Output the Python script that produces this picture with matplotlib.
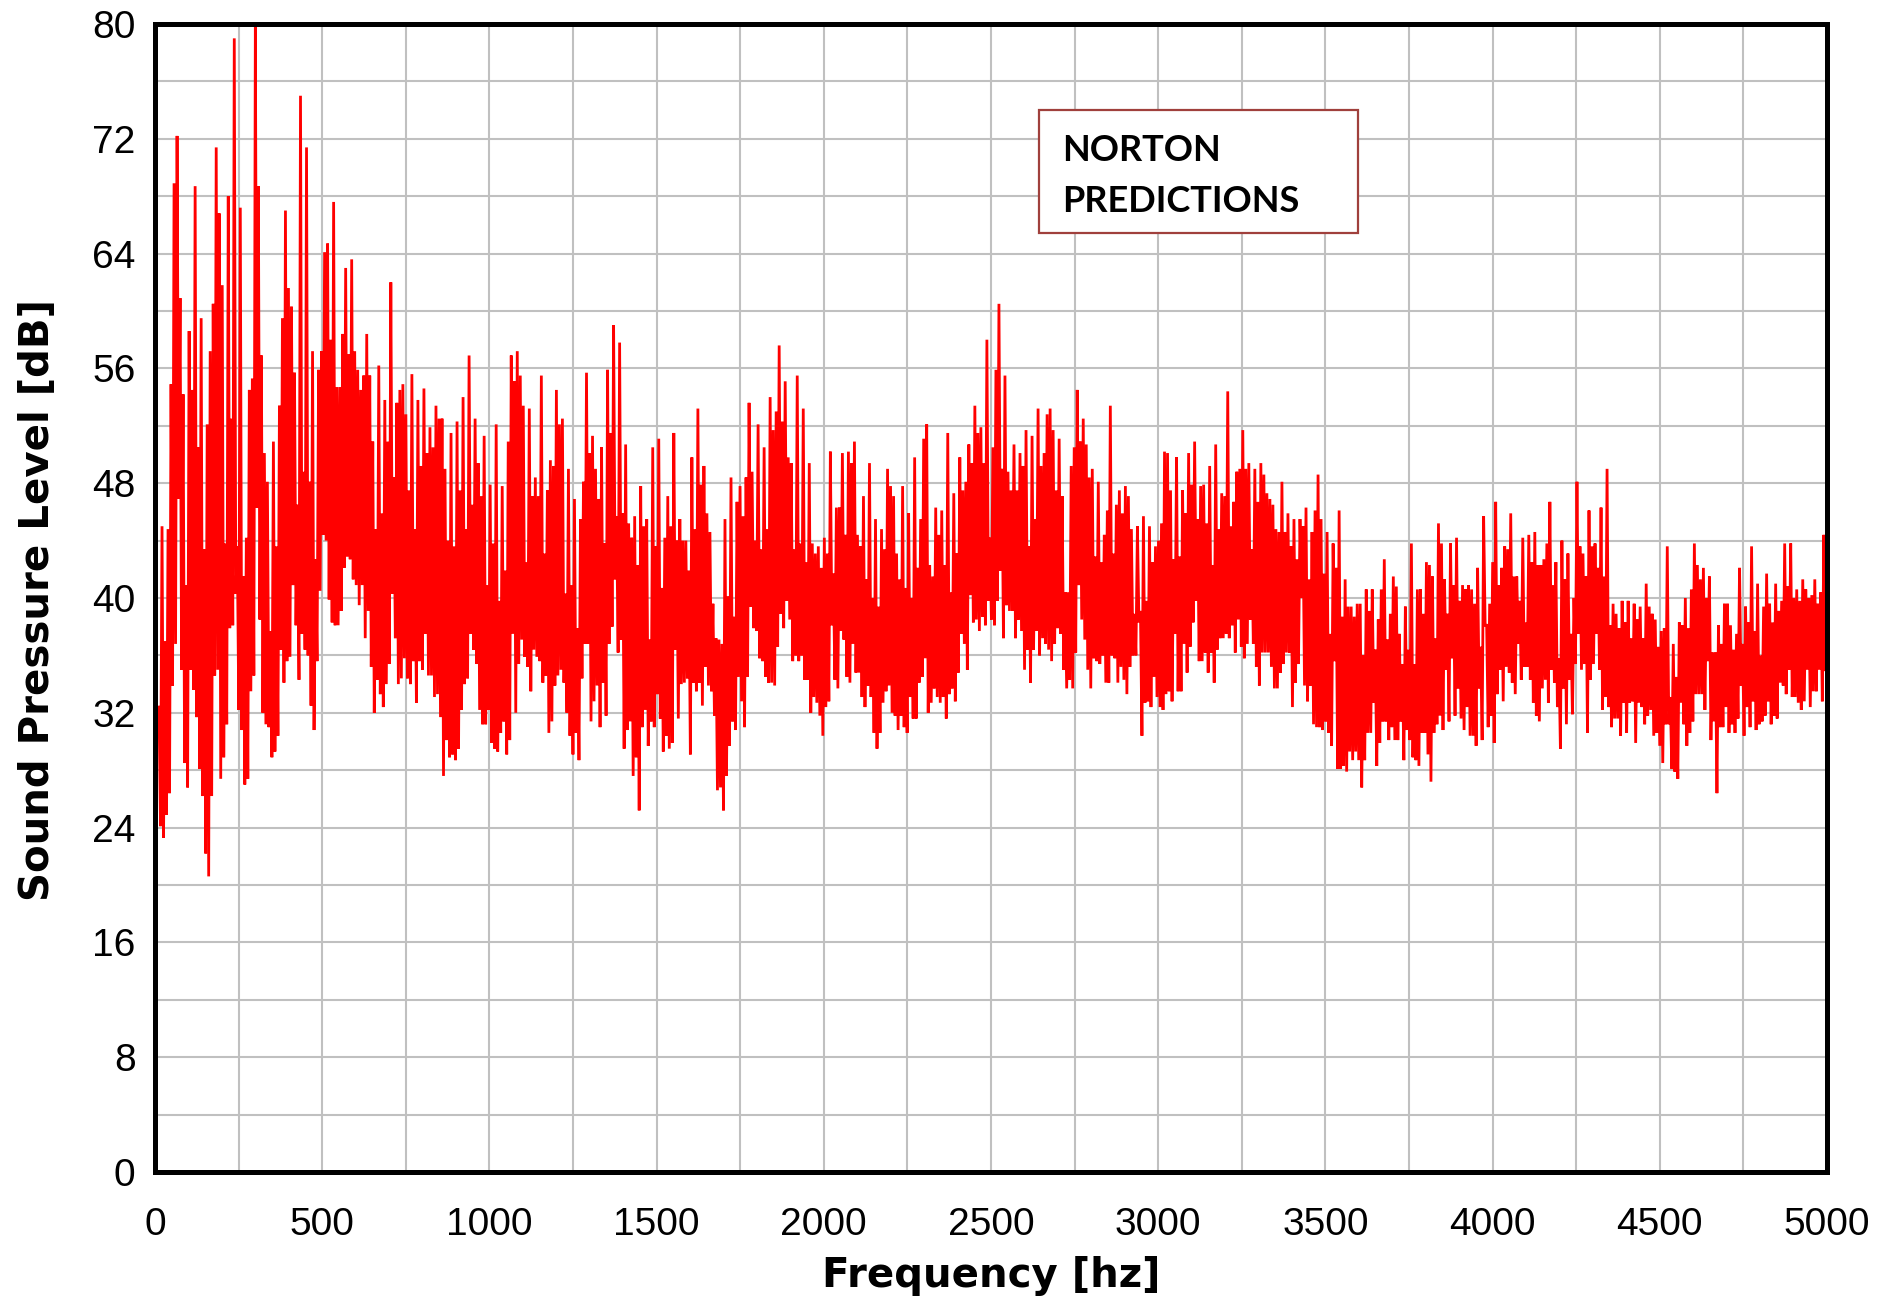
import numpy as np
import matplotlib
matplotlib.use("Agg")
import matplotlib.pyplot as plt
from matplotlib import font_manager
from matplotlib.patches import Rectangle

# upper and lower extent of the trace in each ~9 Hz column
spl_max = [
    # 0 - 640 Hz
    32.4, 45.0, 37.0, 44.8, 54.9, 68.9, 72.2, 60.9, 54.2, 40.9, 58.6, 54.5, 68.7, 50.5, 59.5, 43.4, 52.1, 57.2,
    60.5, 71.4, 66.8, 61.8, 43.8, 68.0, 52.5, 79.0, 43.6, 67.2, 41.5, 44.2, 54.5, 55.3, 80.0, 68.7, 56.9, 50.1,
    48.1, 37.7, 50.9, 43.6, 53.4, 59.5, 67.0, 61.6, 60.3, 55.7, 46.5, 75.0, 48.8, 71.4, 48.1, 57.2, 42.7, 55.9,
    57.2, 64.1, 64.7, 58.0, 67.6, 54.7, 54.7, 58.4, 63.0, 57.0, 63.6, 57.2, 55.9, 54.5, 55.5, 58.4,
    # 640 - 1270 Hz
    55.5, 50.9, 44.8, 56.2, 45.9, 53.8, 50.9, 62.0, 48.4, 53.6, 54.5, 54.9, 52.8, 47.5, 55.6, 44.8, 53.8, 49.2,
    54.6, 50.1, 51.9, 50.5, 53.4, 52.5, 52.5, 49.0, 44.0, 51.5, 43.6, 52.3, 47.5, 54.0, 44.8, 56.9, 46.5, 52.5,
    49.4, 47.1, 51.3, 40.9, 47.9, 43.8, 52.1, 39.8, 47.8, 41.9, 50.9, 56.9, 55.1, 57.2, 55.5, 53.4, 42.5, 53.2,
    47.1, 48.4, 47.1, 55.5, 43.1, 47.5, 49.6, 49.2, 54.5, 52.1, 52.5, 40.3, 49.0, 40.9, 46.9, 37.9,
    # 1270 - 1900 Hz
    45.5, 48.1, 55.7, 50.1, 51.3, 49.0, 46.9, 50.5, 43.8, 55.9, 51.5, 59.0, 45.7, 57.8, 45.9, 50.7, 45.2, 44.2,
    45.7, 42.3, 47.8, 45.0, 45.5, 37.1, 50.5, 43.6, 51.1, 40.7, 44.2, 47.1, 45.0, 51.5, 44.0, 45.5, 44.0, 44.0,
    41.9, 49.8, 44.8, 53.2, 47.9, 49.2, 45.9, 44.6, 39.6, 37.2, 37.1, 36.8, 45.5, 40.1, 48.4, 38.7, 46.7, 47.8,
    45.7, 48.4, 53.6, 48.8, 44.0, 52.1, 43.4, 50.5, 44.8, 54.0, 51.7, 53.0, 57.6, 52.3, 55.1, 49.8,
    # 1900 - 2525 Hz
    49.4, 43.4, 55.5, 43.8, 53.2, 42.5, 49.4, 43.8, 43.1, 43.6, 42.1, 44.2, 43.1, 50.2, 41.7, 46.3, 46.3, 50.1,
    44.4, 50.2, 49.4, 50.9, 44.4, 43.6, 47.1, 41.3, 49.4, 40.0, 45.5, 39.4, 44.8, 43.4, 49.0, 47.8, 47.1, 43.1,
    41.3, 47.8, 40.7, 45.9, 40.0, 49.8, 42.1, 45.5, 51.1, 52.1, 42.3, 41.5, 46.3, 44.4, 46.1, 42.3, 51.5, 40.4,
    47.3, 43.1, 49.8, 47.5, 48.1, 50.7, 49.4, 53.4, 51.5, 51.9, 49.4, 58.0, 44.2, 50.5, 55.9, 60.5,
    # 2525 - 3155 Hz
    49.0, 55.5, 48.8, 47.5, 50.7, 47.5, 50.1, 49.2, 51.7, 43.6, 51.3, 45.5, 53.2, 49.2, 50.1, 52.8, 53.2, 51.7,
    47.5, 51.1, 47.1, 40.4, 40.4, 49.2, 50.5, 54.5, 50.9, 52.5, 50.7, 48.4, 49.0, 42.9, 48.1, 42.5, 44.4, 46.1,
    53.4, 43.1, 46.5, 47.5, 45.9, 47.8, 47.1, 44.8, 38.9, 45.0, 39.1, 45.7, 39.8, 45.0, 42.5, 43.6, 44.0, 45.2,
    50.2, 50.1, 47.5, 42.7, 49.8, 42.9, 47.5, 45.9, 50.1, 47.9, 50.9, 45.5, 47.8, 47.9, 45.2, 49.2,
    # 3155 - 3785 Hz
    42.3, 50.7, 44.8, 47.3, 47.1, 54.4, 45.0, 46.7, 48.8, 49.0, 51.7, 49.0, 49.4, 43.4, 49.0, 46.7, 49.4, 48.6,
    47.3, 46.9, 46.5, 44.8, 44.6, 48.1, 44.6, 45.9, 43.6, 45.5, 42.7, 45.5, 45.0, 46.3, 41.3, 44.6, 46.1, 48.6,
    45.5, 41.7, 44.6, 37.5, 43.8, 42.1, 46.1, 38.7, 41.3, 39.4, 39.4, 38.7, 39.6, 39.6, 36.0, 40.6, 39.1, 40.6,
    36.4, 38.5, 40.6, 42.7, 37.1, 38.9, 41.5, 40.8, 37.5, 35.4, 39.4, 36.4, 43.8, 35.4, 40.6, 40.6,
    # 3785 - 4400 Hz
    38.9, 42.5, 42.3, 41.5, 37.2, 45.2, 43.8, 41.3, 38.9, 43.8, 40.9, 44.2, 39.8, 40.9, 40.6, 40.9, 40.6, 39.6,
    42.1, 36.6, 45.7, 38.1, 39.6, 42.5, 46.7, 40.9, 42.1, 43.6, 43.4, 45.9, 41.5, 41.5, 39.8, 44.2, 38.3, 44.4,
    42.5, 44.6, 42.3, 42.3, 42.7, 43.8, 46.7, 40.9, 42.5, 35.8, 44.0, 41.3, 43.1, 37.5, 40.0, 48.1, 43.6, 43.1,
    41.5, 46.1, 43.6, 43.8, 42.1, 46.3, 41.5, 49.0, 38.1, 39.6, 38.9, 37.9, 39.8, 38.3, 39.8,
    # 4400 - 5000 Hz
    37.2, 39.6, 38.5, 39.4, 37.2, 41.0, 39.4, 38.9, 38.5, 36.6, 37.7, 37.9, 43.6, 33.1, 36.8, 34.5, 38.3, 38.1,
    40.0, 37.9, 40.6, 43.8, 42.3, 41.3, 42.1, 40.0, 41.5, 36.2, 36.2, 38.1, 36.8, 39.6, 39.6, 38.1, 36.4, 37.5,
    42.1, 36.8, 39.4, 38.3, 43.6, 37.7, 41.0, 36.0, 39.4, 41.7, 39.6, 38.3, 41.0, 39.1, 39.8, 43.8, 40.8, 43.8,
    40.0, 40.6, 39.8, 41.3, 40.6, 40.0, 40.2, 41.3, 39.6, 40.4, 44.4,
]

spl_min = [
    # 0 - 640 Hz
    24.1, 23.3, 24.9, 26.4, 33.9, 36.8, 46.9, 35.0, 28.5, 26.8, 35.0, 33.6, 31.7, 28.1, 26.2, 22.2, 20.6, 26.2,
    34.6, 35.0, 27.4, 28.9, 31.2, 37.9, 38.1, 40.3, 32.2, 30.8, 27.0, 27.4, 33.5, 34.6, 46.3, 38.5, 32.0, 31.2,
    31.0, 28.9, 29.3, 30.4, 36.4, 34.1, 35.6, 35.9, 40.9, 38.1, 34.3, 37.5, 36.4, 36.0, 32.5, 30.8, 35.6, 40.5,
    44.4, 44.0, 39.9, 38.3, 38.1, 38.1, 39.1, 42.1, 42.9, 42.7, 41.3, 40.9, 39.5, 40.9, 37.2, 39.1,
    # 640 - 1270 Hz
    35.2, 32.0, 34.3, 33.3, 32.4, 34.0, 35.4, 40.3, 37.2, 34.0, 34.4, 35.8, 34.4, 34.0, 35.6, 32.7, 35.6, 35.0,
    37.5, 34.6, 34.6, 33.1, 33.3, 31.7, 27.6, 30.1, 28.9, 29.1, 28.7, 29.5, 32.2, 34.0, 34.4, 37.5, 36.4, 35.4,
    32.2, 31.2, 31.2, 32.2, 29.9, 29.5, 29.3, 30.6, 31.4, 29.1, 30.1, 37.5, 32.0, 35.4, 37.1, 35.9, 35.2, 33.5,
    36.4, 35.9, 35.6, 34.1, 34.6, 30.6, 31.4, 33.9, 34.6, 35.0, 34.1, 32.0, 30.4, 29.1, 30.6, 28.7,
    # 1270 - 1900 Hz
    34.4, 36.8, 36.8, 31.4, 32.8, 33.9, 31.0, 34.1, 31.8, 36.8, 38.0, 41.3, 36.2, 37.1, 29.5, 30.8, 31.4, 27.6,
    28.9, 25.2, 31.0, 32.2, 29.7, 31.4, 31.0, 33.3, 31.6, 29.3, 30.4, 29.5, 29.9, 36.4, 31.6, 34.0, 34.1, 34.4,
    29.1, 34.1, 33.5, 34.1, 32.5, 35.2, 33.9, 33.5, 31.8, 26.6, 26.8, 25.2, 27.6, 29.7, 31.4, 30.8, 34.5, 32.8,
    31.0, 34.5, 39.4, 37.9, 37.7, 35.8, 35.6, 34.5, 34.1, 34.1, 33.9, 36.6, 38.9, 37.9, 39.8, 38.5,
    # 1900 - 2525 Hz
    35.6, 36.0, 35.6, 36.0, 34.3, 34.3, 32.0, 33.1, 32.7, 31.8, 30.4, 32.4, 32.8, 38.1, 34.3, 33.7, 37.7, 37.1,
    34.5, 34.1, 36.8, 34.8, 34.8, 33.1, 32.4, 33.9, 33.1, 30.6, 29.5, 30.6, 32.7, 33.5, 33.9, 32.0, 31.8, 30.8,
    31.8, 31.0, 30.6, 33.1, 31.6, 31.6, 34.1, 34.5, 35.8, 32.0, 32.7, 33.7, 33.1, 32.7, 33.1, 31.6, 33.3, 33.7,
    32.8, 34.8, 37.5, 36.8, 35.0, 40.2, 38.3, 38.5, 37.7, 38.7, 38.1, 39.8, 38.5, 38.1, 39.8, 41.9,
    # 2525 - 3155 Hz
    37.2, 39.5, 39.1, 39.1, 37.2, 38.5, 37.7, 35.0, 36.4, 34.1, 36.4, 37.7, 36.0, 37.2, 36.8, 36.4, 35.6, 36.8,
    37.9, 37.5, 35.0, 33.7, 34.3, 33.7, 36.2, 40.9, 38.5, 37.1, 35.0, 33.7, 35.8, 35.6, 35.4, 36.0, 34.1, 34.1,
    36.0, 35.8, 34.1, 35.2, 34.3, 33.3, 35.2, 36.0, 36.0, 38.3, 30.4, 32.7, 32.8, 32.4, 34.5, 33.1, 32.4, 32.2,
    33.3, 33.5, 32.8, 37.5, 33.5, 33.5, 36.8, 34.8, 36.6, 38.3, 39.8, 35.6, 35.6, 36.2, 34.8, 36.2,
    # 3155 - 3785 Hz
    34.1, 36.4, 37.2, 37.2, 37.5, 37.2, 38.1, 36.2, 38.5, 36.6, 35.8, 36.8, 38.5, 36.8, 35.2, 33.9, 36.2, 36.2,
    36.2, 35.2, 33.7, 33.7, 34.8, 35.4, 36.2, 36.2, 32.4, 34.1, 35.4, 40.0, 33.9, 32.8, 33.9, 31.2, 31.0, 31.0,
    30.8, 31.4, 30.6, 29.7, 35.6, 28.1, 28.1, 28.3, 27.9, 29.3, 28.7, 29.3, 28.7, 26.8, 28.7, 30.6, 30.6, 32.7,
    28.3, 29.9, 31.4, 31.4, 30.1, 31.0, 30.1, 30.1, 31.4, 28.7, 30.8, 30.1, 28.9, 28.7, 28.3, 30.6,
    # 3785 - 4400 Hz
    30.6, 29.1, 27.2, 30.6, 31.2, 31.8, 30.8, 35.0, 31.4, 35.8, 31.8, 33.7, 31.6, 30.8, 32.4, 30.4, 30.4, 29.7,
    33.7, 30.1, 38.1, 31.0, 31.8, 29.9, 33.3, 35.0, 32.8, 35.2, 34.8, 34.1, 33.3, 36.8, 34.3, 35.2, 35.2, 34.3,
    32.7, 31.8, 31.4, 33.7, 34.3, 32.7, 35.0, 34.1, 32.4, 29.5, 33.7, 31.2, 34.3, 31.9, 35.4, 37.5, 35.0, 35.4,
    30.6, 34.3, 35.4, 37.5, 35.0, 32.2, 33.1, 32.4, 31.0, 31.6, 31.6, 30.4, 32.7, 30.6, 32.7,
    # 4400 - 5000 Hz
    32.8, 29.9, 32.7, 32.4, 31.2, 31.8, 32.2, 30.4, 30.6, 29.7, 28.5, 31.2, 31.2, 28.1, 27.9, 27.4, 32.7, 31.2,
    29.7, 30.6, 31.4, 33.3, 33.3, 33.3, 32.2, 35.6, 30.1, 31.4, 26.4, 31.0, 31.0, 32.4, 30.6, 31.2, 30.6, 31.6,
    33.9, 30.4, 32.4, 31.0, 32.8, 30.8, 31.2, 31.4, 31.8, 32.8, 31.2, 31.8, 31.6, 34.1, 33.9, 33.3, 35.0, 33.1,
    33.1, 32.7, 32.2, 32.8, 35.0, 32.4, 33.5, 33.5, 35.0, 32.8, 35.0,
]

f_start, f_stop = 12, 4995
x_ticks = list(range(0, 5001, 500))
y_ticks = list(range(0, 81, 8))
legend_lines = ["NORTON", "PREDICTIONS"]

# zig-zag through top and bottom of every column, like the dense trace
spl = np.column_stack([spl_max, spl_min]).ravel()
freq = np.linspace(f_start, f_stop, len(spl))

W, H = 1890, 1305
names = {f.name for f in font_manager.fontManager.ttflist}
tick_font = "Liberation Sans Narrow" if "Liberation Sans Narrow" in names else "Liberation Sans"
box_font = "Lato" if "Lato" in names else "DejaVu Sans"

fig = plt.figure(figsize=(W / 100, H / 100), dpi=100)
ax = fig.add_axes([155 / W, 1 - 1172 / H, 1672 / W, 1148 / H])

ax.plot(freq, spl, color="#ff0000", lw=2.0, solid_joinstyle="miter", zorder=3)

ax.set_xlim(0, 5000)
ax.set_ylim(0, 80)
ax.set_xticks(x_ticks)
ax.set_yticks(y_ticks)
ax.set_xticks(range(250, 5000, 500), minor=True)
ax.set_yticks(range(4, 80, 8), minor=True)
ax.grid(True, which="both", color="#c0c0c0", lw=1.5, zorder=0)
ax.set_axisbelow(True)
ax.tick_params(which="both", length=0)
ax.tick_params(axis="x", pad=25)
ax.tick_params(axis="y", pad=14)
for lab in ax.get_xticklabels() + ax.get_yticklabels():
    lab.set_fontfamily(tick_font)
    lab.set_fontsize(28)
for sp in ax.spines.values():
    sp.set_linewidth(3.6)
    sp.set_color("black")
    sp.set_zorder(5)

fig.text(991 / W, 1 - 1276 / H, "Frequency [hz]", ha="center", va="center",
         fontsize=29, fontweight="bold", family="DejaVu Sans")
fig.text(38 / W, 1 - 600 / H, "Sound Pressure Level [dB]", ha="center", va="center",
         rotation=90, fontsize=29, fontweight="bold", family="DejaVu Sans")

# label box
fig.patches.append(Rectangle((1039 / W, 1 - 233 / H), 319 / W, 123 / H, transform=fig.transFigure,
                             facecolor="white", edgecolor="#a0403c", lw=1.6, zorder=6))
for i, line in enumerate(legend_lines):
    fig.text(1062 / W, 1 - (161 + 51 * i) / H, line, ha="left", va="baseline",
             fontsize=26, fontweight="bold", family=box_font, zorder=7)

fig.savefig("out.png", dpi=100)
